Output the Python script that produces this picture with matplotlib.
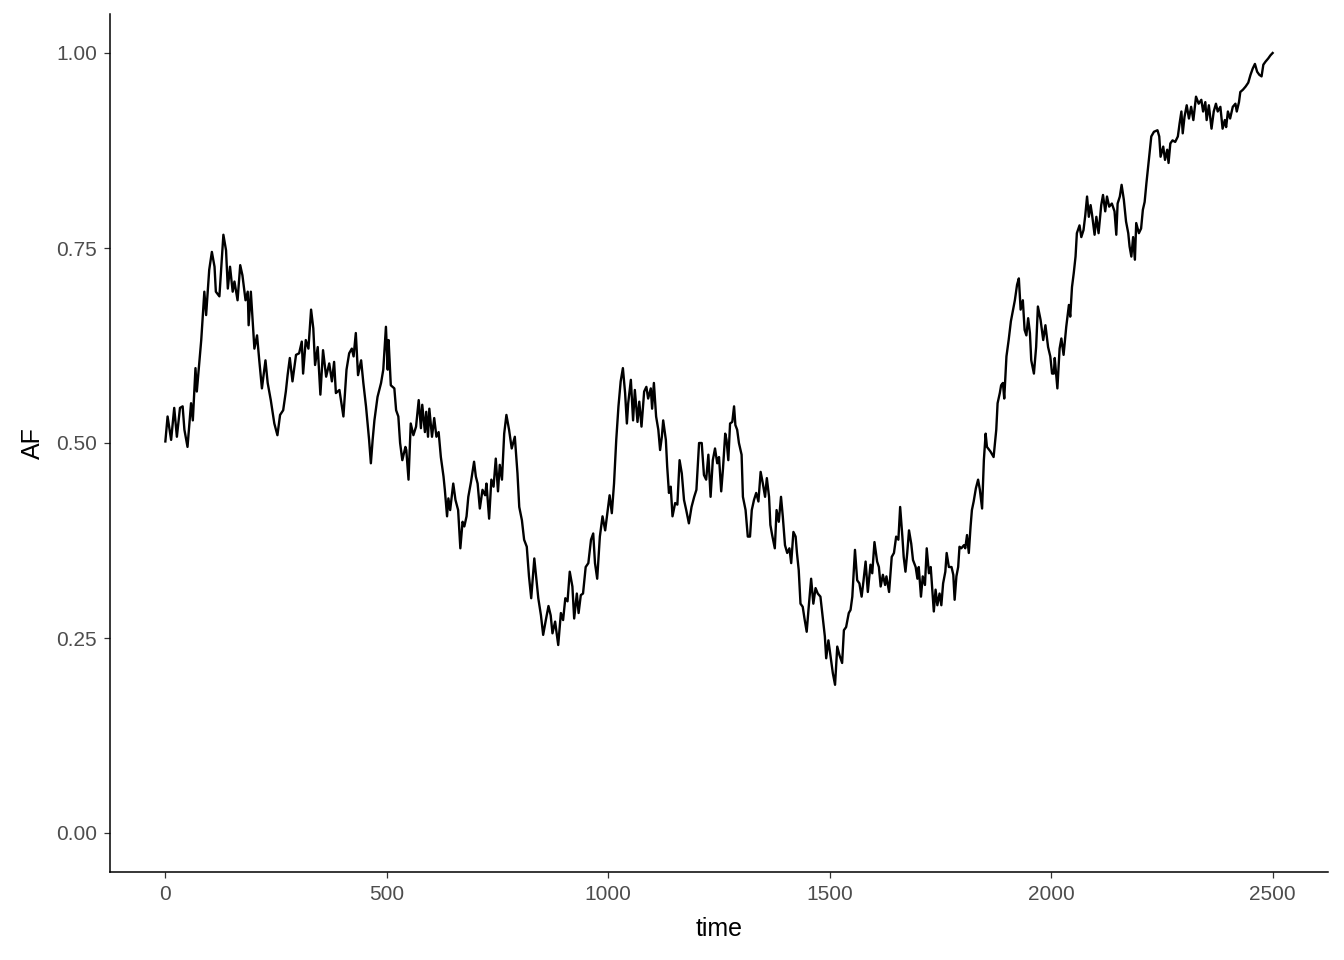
import matplotlib
matplotlib.use('Agg')
import matplotlib.pyplot as plt

# allele frequency trajectory, (time, AF)
seg_a = [(0, 0.502), (5, 0.534), (13, 0.504), (20, 0.545), (26, 0.508), (33, 0.545), (39, 0.547),
         (43, 0.517), (50, 0.495), (58, 0.551), (62, 0.529), (68, 0.596), (71, 0.566), (81, 0.632),
         (88, 0.694), (92, 0.664), (99, 0.722), (105, 0.745), (111, 0.726), (114, 0.694), (122, 0.688),
         (131, 0.767), (137, 0.747), (141, 0.698), (146, 0.726), (152, 0.694), (156, 0.707), (163, 0.683),
         (169, 0.728), (174, 0.715), (181, 0.683), (186, 0.694), (188, 0.651), (193, 0.694), (201, 0.621),
         (207, 0.638), (212, 0.606), (218, 0.570), (226, 0.606), (231, 0.577), (238, 0.555), (246, 0.525),
         (253, 0.510), (259, 0.536), (266, 0.542), (272, 0.566), (276, 0.587), (281, 0.609), (287, 0.579),
         (295, 0.613), (302, 0.615), (308, 0.630), (311, 0.589), (317, 0.632), (323, 0.621), (329, 0.671),
         (334, 0.647), (338, 0.600), (344, 0.623), (350, 0.562), (356, 0.619), (363, 0.585), (370, 0.602),
         (376, 0.579), (381, 0.604), (385, 0.564), (393, 0.568), (398, 0.549), (402, 0.534), (409, 0.594),
         (415, 0.615), (421, 0.621), (425, 0.611), (430, 0.641), (435, 0.587), (442, 0.606), (447, 0.577),
         (453, 0.547), (460, 0.504), (464, 0.474), (468, 0.504), (472, 0.529), (479, 0.559), (487, 0.577),
         (492, 0.594), (498, 0.649), (502, 0.594)]

seg_b = [(504, 0.632), (509, 0.574), (517, 0.570), (521, 0.542), (526, 0.534), (530, 0.500), (535, 0.478),
         (542, 0.495), (544, 0.491), (549, 0.453), (554, 0.525), (560, 0.510), (566, 0.521), (572, 0.555),
         (577, 0.519), (580, 0.549), (586, 0.514), (589, 0.540), (593, 0.508), (596, 0.544), (602, 0.508),
         (607, 0.532), (612, 0.508), (617, 0.514), (622, 0.482), (628, 0.457), (631, 0.440), (636, 0.406),
         (639, 0.429), (643, 0.414), (650, 0.448), (655, 0.427), (661, 0.414), (666, 0.365), (671, 0.399),
         (675, 0.393), (680, 0.406), (684, 0.431), (690, 0.450), (697, 0.476), (701, 0.457), (705, 0.448),
         (710, 0.416), (716, 0.440), (722, 0.433), (725, 0.448), (731, 0.403), (736, 0.453), (741, 0.444),
         (746, 0.480), (751, 0.438), (755, 0.472), (760, 0.453), (765, 0.512), (770, 0.536), (776, 0.517),
         (782, 0.493), (789, 0.508), (795, 0.461), (799, 0.418), (805, 0.401), (810, 0.376), (816, 0.367),
         (821, 0.329), (826, 0.301), (833, 0.352), (838, 0.324), (842, 0.301), (848, 0.279), (853, 0.254),
         (859, 0.273), (865, 0.291), (870, 0.279), (874, 0.256), (880, 0.271), (887, 0.241), (893, 0.282),
         (898, 0.273), (903, 0.301), (908, 0.297), (913, 0.335), (919, 0.316), (923, 0.275), (929, 0.307),
         (933, 0.282), (938, 0.305), (943, 0.307), (949, 0.341), (955, 0.346), (961, 0.376), (966, 0.384),
         (970, 0.346), (975, 0.326), (981, 0.380), (987, 0.406), (993, 0.388), (998, 0.410)]

seg_c = [(1003, 0.433), (1008, 0.410), (1013, 0.448), (1018, 0.504), (1023, 0.547), (1028, 0.579),
         (1033, 0.596), (1038, 0.564), (1042, 0.525), (1045, 0.551), (1051, 0.581), (1056, 0.529),
         (1060, 0.568), (1066, 0.527), (1070, 0.553), (1075, 0.521), (1081, 0.566), (1086, 0.572),
         (1090, 0.557), (1096, 0.570), (1099, 0.544), (1103, 0.577), (1108, 0.534), (1113, 0.517),
         (1117, 0.491), (1121, 0.508), (1124, 0.529), (1130, 0.504), (1133, 0.470), (1137, 0.436),
         (1141, 0.444), (1145, 0.406), (1151, 0.423), (1156, 0.421), (1161, 0.478), (1166, 0.461),
         (1171, 0.427), (1176, 0.414), (1182, 0.397), (1188, 0.418), (1194, 0.431), (1199, 0.440),
         (1205, 0.500), (1211, 0.500), (1216, 0.459), (1221, 0.453), (1226, 0.485), (1231, 0.431),
         (1236, 0.478), (1241, 0.493), (1246, 0.474), (1250, 0.482), (1255, 0.438), (1259, 0.467),
         (1264, 0.512), (1267, 0.504), (1271, 0.478), (1275, 0.525), (1280, 0.527), (1284, 0.547),
         (1287, 0.523), (1291, 0.517), (1295, 0.500), (1301, 0.485), (1304, 0.431), (1310, 0.414),
         (1315, 0.380), (1320, 0.380), (1324, 0.414), (1329, 0.427), (1334, 0.436), (1339, 0.425),
         (1344, 0.463), (1349, 0.448), (1354, 0.431), (1358, 0.455), (1363, 0.431), (1366, 0.395),
         (1370, 0.382), (1376, 0.365), (1380, 0.414), (1385, 0.399), (1390, 0.431), (1394, 0.406),
         (1399, 0.369), (1404, 0.359), (1409, 0.365), (1413, 0.346), (1418, 0.386), (1423, 0.380),
         (1426, 0.359), (1430, 0.337), (1434, 0.294), (1439, 0.290), (1443, 0.275), (1448, 0.258),
         (1452, 0.286), (1458, 0.326), (1463, 0.294), (1468, 0.314), (1473, 0.307)]

seg_d = [(1479, 0.303), (1485, 0.273), (1489, 0.252), (1492, 0.224), (1497, 0.247), (1502, 0.226),
         (1507, 0.205), (1512, 0.190), (1517, 0.239), (1522, 0.228), (1528, 0.218), (1532, 0.260),
         (1537, 0.264), (1543, 0.282), (1547, 0.286), (1551, 0.303), (1557, 0.363), (1562, 0.324),
         (1567, 0.320), (1572, 0.303), (1576, 0.322), (1581, 0.348), (1586, 0.309), (1592, 0.344),
         (1596, 0.333), (1601, 0.373), (1607, 0.348), (1611, 0.341), (1615, 0.316), (1620, 0.331),
         (1625, 0.318), (1628, 0.329), (1634, 0.309), (1640, 0.354), (1645, 0.359), (1650, 0.380),
         (1655, 0.376), (1659, 0.418), (1664, 0.380), (1667, 0.354), (1671, 0.335), (1675, 0.359),
         (1679, 0.388), (1684, 0.371), (1688, 0.350), (1694, 0.341), (1698, 0.326), (1701, 0.341),
         (1706, 0.303), (1710, 0.329), (1715, 0.318), (1719, 0.365), (1724, 0.333), (1728, 0.341),
         (1731, 0.316), (1735, 0.284), (1739, 0.312), (1743, 0.292), (1748, 0.307), (1752, 0.292),
         (1756, 0.320), (1761, 0.335), (1764, 0.359), (1769, 0.341), (1775, 0.341), (1779, 0.331),
         (1782, 0.299), (1786, 0.329), (1790, 0.341), (1793, 0.367), (1797, 0.365), (1803, 0.369),
         (1806, 0.365), (1810, 0.382), (1814, 0.359), (1818, 0.393), (1821, 0.414), (1825, 0.425),
         (1830, 0.442), (1835, 0.453), (1839, 0.440), (1844, 0.416), (1848, 0.478)]

seg_e = [(1852, 0.512), (1855, 0.495), (1863, 0.489), (1870, 0.482), (1876, 0.517), (1879, 0.551),
         (1884, 0.564), (1887, 0.574), (1891, 0.577), (1894, 0.557), (1899, 0.611), (1904, 0.632),
         (1909, 0.656), (1914, 0.671), (1918, 0.683), (1923, 0.703), (1927, 0.711), (1931, 0.671),
         (1936, 0.683), (1940, 0.645), (1944, 0.638), (1948, 0.660), (1952, 0.641), (1955, 0.606),
         (1961, 0.589), (1966, 0.623), (1970, 0.675), (1976, 0.658), (1982, 0.632), (1987, 0.651),
         (1993, 0.623), (1998, 0.611), (2002, 0.589)]

seg_f = [(2006, 0.589), (2008, 0.609), (2014, 0.570), (2019, 0.621), (2023, 0.634), (2028, 0.613),
         (2034, 0.649), (2040, 0.677), (2043, 0.662), (2047, 0.700), (2051, 0.718), (2055, 0.739),
         (2058, 0.769), (2064, 0.779), (2068, 0.764), (2073, 0.773), (2077, 0.792), (2081, 0.816),
         (2085, 0.790), (2089, 0.805), (2092, 0.794), (2098, 0.767), (2102, 0.790), (2107, 0.769),
         (2113, 0.805), (2117, 0.818), (2122, 0.797), (2126, 0.816), (2131, 0.803), (2137, 0.807),
         (2143, 0.797), (2147, 0.767), (2150, 0.807), (2155, 0.816), (2159, 0.831), (2164, 0.812),
         (2169, 0.784), (2174, 0.769), (2177, 0.752), (2181, 0.739), (2185, 0.764), (2189, 0.735),
         (2192, 0.782), (2198, 0.769), (2203, 0.775), (2207, 0.799), (2211, 0.809), (2215, 0.833),
         (2219, 0.854)]

seg_g = [(2222, 0.871), (2226, 0.893), (2232, 0.899), (2240, 0.901), (2244, 0.893), (2247, 0.867),
         (2253, 0.880), (2257, 0.863), (2262, 0.876), (2265, 0.859), (2269, 0.884), (2274, 0.888),
         (2280, 0.886), (2286, 0.893), (2290, 0.910), (2294, 0.925), (2297, 0.897), (2301, 0.918),
         (2306, 0.933), (2311, 0.916), (2316, 0.931), (2321, 0.914), (2327, 0.944), (2333, 0.935),
         (2339, 0.940), (2343, 0.925), (2348, 0.937), (2351, 0.914), (2356, 0.933), (2362, 0.903),
         (2367, 0.925), (2372, 0.935), (2376, 0.925), (2382, 0.931), (2387, 0.903), (2392, 0.914),
         (2395, 0.905), (2399, 0.925), (2404, 0.916), (2410, 0.931), (2416, 0.935), (2419, 0.925),
         (2424, 0.937), (2427, 0.950), (2433, 0.953), (2439, 0.957), (2445, 0.962), (2450, 0.972),
         (2455, 0.980), (2460, 0.986), (2465, 0.976), (2470, 0.972), (2475, 0.970), (2479, 0.985),
         (2484, 0.989), (2490, 0.993), (2495, 0.997), (2500, 1.000)]

x_ticks = [0, 500, 1000, 1500, 2000, 2500]
y_ticks = [0.00, 0.25, 0.50, 0.75, 1.00]

pts = seg_a + seg_b + seg_c + seg_d + seg_e + seg_f + seg_g
time = [p[0] for p in pts]
af = [p[1] for p in pts]

plt.rcParams['font.family'] = ['Liberation Sans', 'DejaVu Sans']

fig = plt.figure(figsize=(13.44, 9.6), dpi=100)
ax = fig.add_axes([110/1344, 1 - 872/960, (1328 - 110)/1344, (872 - 14)/960])

ax.plot(time, af, color='black', lw=1.7, solid_joinstyle='round')

# ggplot-style 5% expansion
ax.set_xlim(-125, 2625)
ax.set_ylim(-0.05, 1.05)
ax.set_xticks(x_ticks)
ax.set_yticks(y_ticks)
ax.set_yticklabels([f"{v:.2f}" for v in y_ticks])

for s in ['top', 'right']:
    ax.spines[s].set_visible(False)
for s in ['left', 'bottom']:
    ax.spines[s].set_linewidth(1.1)
    ax.spines[s].set_color('black')

ax.tick_params(axis='both', length=4.5, width=0.9, color='#333333',
               labelcolor='#4D4D4D', labelsize=15, pad=5)

ax.set_xlabel('time', fontsize=18, labelpad=9)
ax.set_ylabel('AF', fontsize=18, labelpad=8)

fig.savefig('out.png', dpi=100)
